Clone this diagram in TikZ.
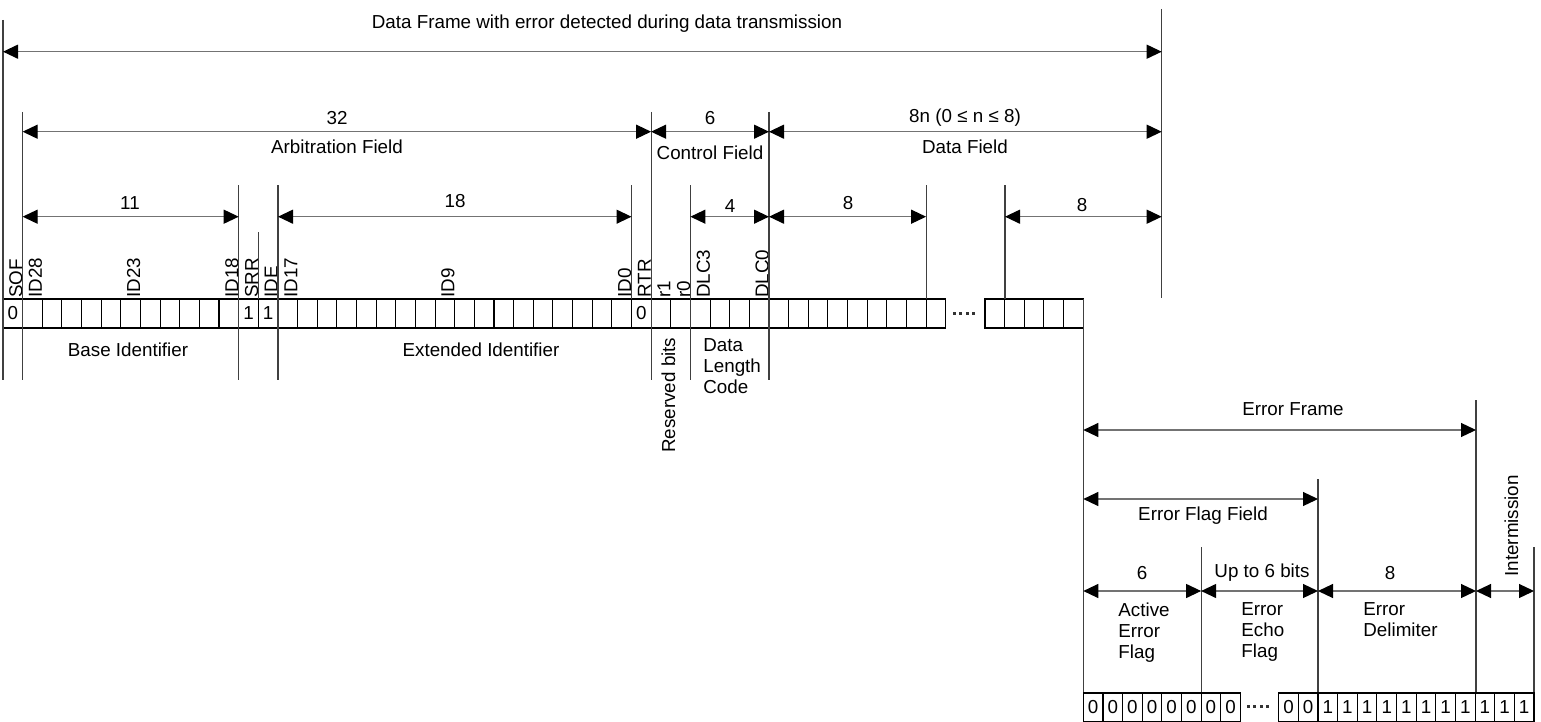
\documentclass[tikz,border=0pt]{standalone}
\usepackage{fontspec}
\setmainfont{Liberation Sans}
\usetikzlibrary{arrows.meta}

\tikzset{
  tip/.tip={Triangle[length=7.5pt,width=7pt,color=black]},
  dim/.style={tip-tip, draw=black!55, line width=0.6pt},
  tick/.style={draw=black!75, line width=0.55pt},
  bit/.style={draw=black, line width=0.55pt},
  lbl/.style={inner sep=0pt, font=\fontsize{9.4}{10.5}\selectfont},
  vlbl/.style={lbl, rotate=90, anchor=base west},
  stack/.style={lbl, align=left, anchor=north west},
  gapdot/.style={fill=black!80},
}

\begin{document}
\begin{tikzpicture}[x=0.5pt, y=-0.5pt]
    \useasboundingbox (0,0) rectangle (1541,722);

    % Data frame bits
    \foreach \i in {0,...,47}
        \draw[bit] ({3+\i*19.64},299) rectangle ++(19.64,29);
    \foreach \i in {0,...,4}
        \draw[bit] ({985+\i*19.64},299) rectangle ++(19.64,29);
    \foreach \k in {0,...,3}
        \fill[gapdot] ({952.5+\k*6.6},312.3) rectangle ++(3,3);

    \foreach \i/\t in {0/SOF, 1/ID28, 6/ID23, 11/ID18, 12/SRR, 13/IDE, 14/ID17,
                       22/ID9, 31/ID0, 32/RTR, 33/r1, 34/r0, 35/DLC3, 38/DLC0}
        \node[vlbl] (name\i) at ({3+(\i+1)*19.64-0.3},298) {\t};
    \foreach \i/\v in {0/0, 12/1, 13/1, 32/0}
        \node[lbl] (val\i) at ({3+(\i+0.5)*19.64},313.5) {\v};

    % Boundary lines
    \foreach \x/\ya/\yb in {3/20/380, 1161.7/9/298, 22.6/112/380, 651.1/112/380,
                            769/112/380, 238.7/185/380, 278/185/380, 631.5/185/299,
                            690.4/185/380, 926.1/185/299, 1005/185/299, 258.3/232/299,
                            1083.3/299/722, 1476/400/693, 1318/479/693,
                            1201.1/547/693, 1534/547/693}
        \draw[tick] (\x,\ya) -- (\x,\yb);

    % Data frame dimensions
    \coordinate (frA) at (3,51.7);      \coordinate (frB) at (1161.7,51.7);
    \draw[dim] (frA) -- (frB);
    \node[lbl] (frame) at (607,24) {Data Frame with error detected during data transmission};

    \coordinate (arbA) at (22.6,131.7); \coordinate (arbB) at (651.1,131.7);
    \coordinate (ctlB) at (769,131.7);  \coordinate (datB) at (1161.7,131.7);
    \draw[dim] (arbA) -- (arbB);
    \draw[dim] (arbB) -- (ctlB);
    \draw[dim] (ctlB) -- (datB);
    \node[lbl] (arbN) at (337,118) {32};
    \node[lbl] (arbT) at (337,147) {Arbitration Field};
    \node[lbl] (ctlN) at (710,118) {6};
    \node[lbl] (ctlT) at (710,153) {Control Field};
    \node[lbl] (datN) at (965,118) {8n (0 ≤ n ≤ 8)};
    \node[lbl] (datT) at (965,147) {Data Field};

    \coordinate (baseA) at (22.6,216.7);  \coordinate (baseB) at (238.7,216.7);
    \coordinate (extA) at (278,216.7);    \coordinate (extB) at (631.5,216.7);
    \coordinate (dlcA) at (690.4,216.7);  \coordinate (dlcB) at (769,216.7);
    \coordinate (byteA) at (926.1,216.7);
    \coordinate (lastA) at (1005,216.7);  \coordinate (lastB) at (1161.7,216.7);
    \draw[dim] (baseA) -- (baseB);
    \draw[dim] (extA) -- (extB);
    \draw[dim] (dlcA) -- (dlcB);
    \draw[dim] (dlcB) -- (byteA);
    \draw[dim] (lastA) -- (lastB);
    \node[lbl] (baseN) at (130,203) {11};
    \node[lbl] (extN) at (455,201) {18};
    \node[lbl] (dlcN) at (730,206) {4};
    \node[lbl] (byteN) at (848,203) {8};
    \node[lbl] (lastN) at (1082,205) {8};

    \node[lbl] (baseT) at (128,350) {Base Identifier};
    \node[lbl] (extT) at (481,350) {Extended Identifier};
    \node[vlbl] (resT) at (675,453) {Reserved bits};
    \node[stack] (dlcT) at (703,338.5) {Data\\Length\\Code};

    % Error frame
    \foreach \i in {0,...,7}
        \draw[bit] ({1083.3+\i*19.64},693) rectangle ++(19.64,29)
            node[lbl, midway] (ez\i) {0};
    \foreach \k in {0,...,3}
        \fill[gapdot] ({1246.5+\k*6.6},705) rectangle ++(3,3);
    \foreach \i in {0,1}
        \draw[bit] ({1278.7+\i*19.64},693) rectangle ++(19.64,29)
            node[lbl, midway] (fz\i) {0};
    \foreach \i in {2,...,12}
        \draw[bit] ({1278.7+\i*19.64},693) rectangle ++(19.64,29)
            node[lbl, midway] (fo\i) {1};

    \coordinate (erA) at (1083.3,430);  \coordinate (erB) at (1476,430);
    \draw[dim] (erA) -- (erB);
    \node[lbl] (erT) at (1293,409) {Error Frame};

    \coordinate (flA) at (1083.3,499);  \coordinate (flB) at (1318,499);
    \draw[dim] (flA) -- (flB);
    \node[lbl] (flT) at (1203,516) {Error Flag Field};

    \coordinate (acA) at (1083.3,591);  \coordinate (acB) at (1201.1,591);
    \coordinate (ecB) at (1318,591);    \coordinate (deB) at (1476,591);
    \coordinate (imB) at (1534,591);
    \draw[dim] (acA) -- (acB);
    \draw[dim] (acB) -- (ecB);
    \draw[dim] (ecB) -- (deB);
    \draw[dim] (deB) -- (imB);
    \node[lbl] (acN) at (1142,573) {6};
    \node[lbl] (ecN) at (1262,573) {Up to 6 bits};
    \node[lbl] (deN) at (1390,573) {8};
    \node[vlbl] (imT) at (1518,577) {Intermission};

    \node[stack] (acT) at (1118,602.5) {Active\\Error\\Flag};
    \node[stack] (ecT) at (1241,602.5) {Error\\Echo\\Flag};
    \node[stack] (deT) at (1363,602.5) {Error\\Delimiter};
\end{tikzpicture}
\end{document}
